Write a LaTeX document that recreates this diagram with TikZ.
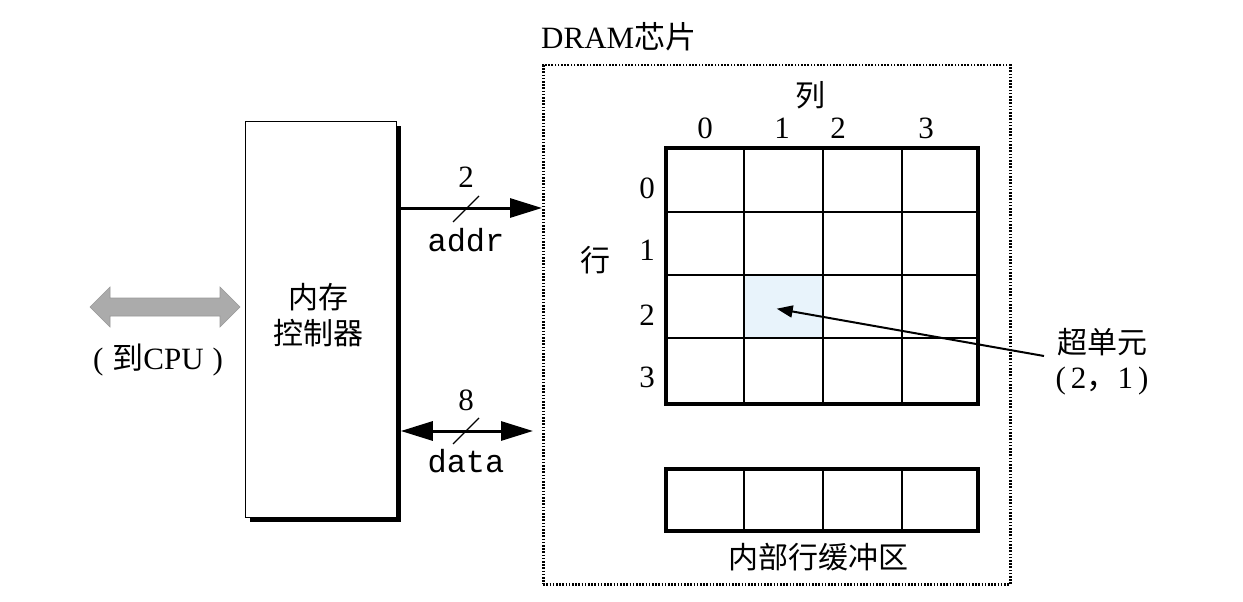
\documentclass[tikz,border=0pt]{standalone}
\usepackage{fontspec}
\setmainfont{Liberation Serif}
\setmonofont{Liberation Mono}
\newfontfamily\cjk{Noto Sans CJK SC}
\usetikzlibrary{arrows.meta}
\definecolor{cellblue}{HTML}{E8F3FB}
\definecolor{cpugray}{HTML}{ABABAB}
\tikzset{
  lbl/.style={inner sep=0pt, font=\fontsize{31}{34}\selectfont},
  cjklbl/.style={inner sep=0pt, font=\cjk\fontsize{30}{36}\selectfont},
  monolbl/.style={inner sep=0pt, font=\ttfamily\fontsize{32}{34}\selectfont},
  bus/.style={line width=3pt},
  tip/.style={-{Triangle[length=32pt,width=19pt]}},
  dtip/.style={{Triangle[length=32pt,width=19pt]}-{Triangle[length=32pt,width=19pt]}},
  slash/.style={line width=1.3pt},
  thinline/.style={line width=1.2pt},
}
\begin{document}
\begin{tikzpicture}[x=1pt,y=-1pt]
\useasboundingbox[fill=white] (0,0) rectangle (1243,602);

% memory controller with shadow
\fill (250,126) rectangle (401,522);
\node (ctrl) [draw, fill=white, line width=0.8pt, minimum width=151pt, minimum height=396pt, inner sep=0pt, anchor=north west] at (245,121) {};
\node (ctrltxt) [cjklbl, align=center] at (318,315) {内存\\控制器};

% CPU double arrow
\filldraw[fill=cpugray, draw=gray!80, line width=0.6pt]
  (90,307) -- (110,287) -- (110,298) -- (220,298) -- (220,287) -- (240,307)
  -- (220,327) -- (220,316) -- (110,316) -- (110,327) -- cycle;
\node (cpu) [lbl] at (158,360) {(\hspace{9pt}{\cjk 到}CPU\hspace{9pt})};

% DRAM chip
\node (chip) [draw, line width=2.5pt, dash pattern=on 1.6pt off 1.6pt, minimum width=467pt, minimum height=519pt, inner sep=0pt, anchor=north west] at (542,64) {};
\node (chiplbl) [lbl, anchor=west] at (541,37) {DRAM{\cjk 芯片}};

% addr bus
\coordinate (addrS) at (ctrl.east |- 0,208);
\coordinate (addrE) at (chip.west |- 0,208);
\draw[bus, tip] (addrS) -- (addrE);
\draw[slash] (453,222) -- (479,196);
\node (two) [lbl] at (466,177) {2};
\node (addr) [monolbl] at (466,240) {addr};

% data bus
\coordinate (dataS) at ([xshift=4pt]ctrl.east |- 0,431);
\coordinate (dataE) at ([xshift=-9pt]chip.west |- 0,431);
\draw[bus, dtip] (dataS) -- (dataE);
\draw[slash] (453,444) -- (479,418);
\node (eight) [lbl] at (466,400) {8};
\node (data) [monolbl] at (466,461) {data};

% highlighted supercell
\node (cell21) [fill=cellblue, inner sep=0pt, minimum width=79pt, minimum height=63pt, anchor=north west] at (744,275) {};

% grid
\draw[thinline] (744,146) -- (744,402) (823,146) -- (823,402) (902,146) -- (902,402);
\draw[thinline] (664,212) -- (976,212) (664,275) -- (976,275) (664,338) -- (976,338);
\node (grid) [draw, line width=4pt, minimum width=312pt, minimum height=256pt, inner sep=0pt, anchor=north west] at (664,146) {};

% column / row labels
\node (collbl) [cjklbl] at (810,95) {列};
\node (c0) [lbl] at (705,128) {0};
\node (c1) [lbl] at (782,128) {1};
\node (c2) [lbl] at (838,128) {2};
\node (c3) [lbl] at (926,128) {3};
\node (rowlbl) [cjklbl] at (595,260) {行};
\node (r0) [lbl] at (647,188) {0};
\node (r1) [lbl] at (647,250) {1};
\node (r2) [lbl] at (647,315) {2};
\node (r3) [lbl] at (647,377) {3};

% supercell label and arrow
\node (super) [cjklbl] at (1102,342) {超单元};
\node (superidx) [lbl] at (1102,381) {(\,2{\cjk ，}1\,)};
\coordinate (supertail) at (1044,356);
\draw[line width=2pt, -{Triangle[length=16pt,width=12pt]}] (supertail) -- ([xshift=-7pt,yshift=-2pt]cell21.center);

% internal row buffer
\draw[thinline] (744,467) -- (744,529) (823,467) -- (823,529) (902,467) -- (902,529);
\node (buf) [draw, line width=4pt, minimum width=312pt, minimum height=62pt, inner sep=0pt, anchor=north west] at (664,467) {};
\node (buflbl) [cjklbl] at (818,557) {内部行缓冲区};
\end{tikzpicture}
\end{document}
